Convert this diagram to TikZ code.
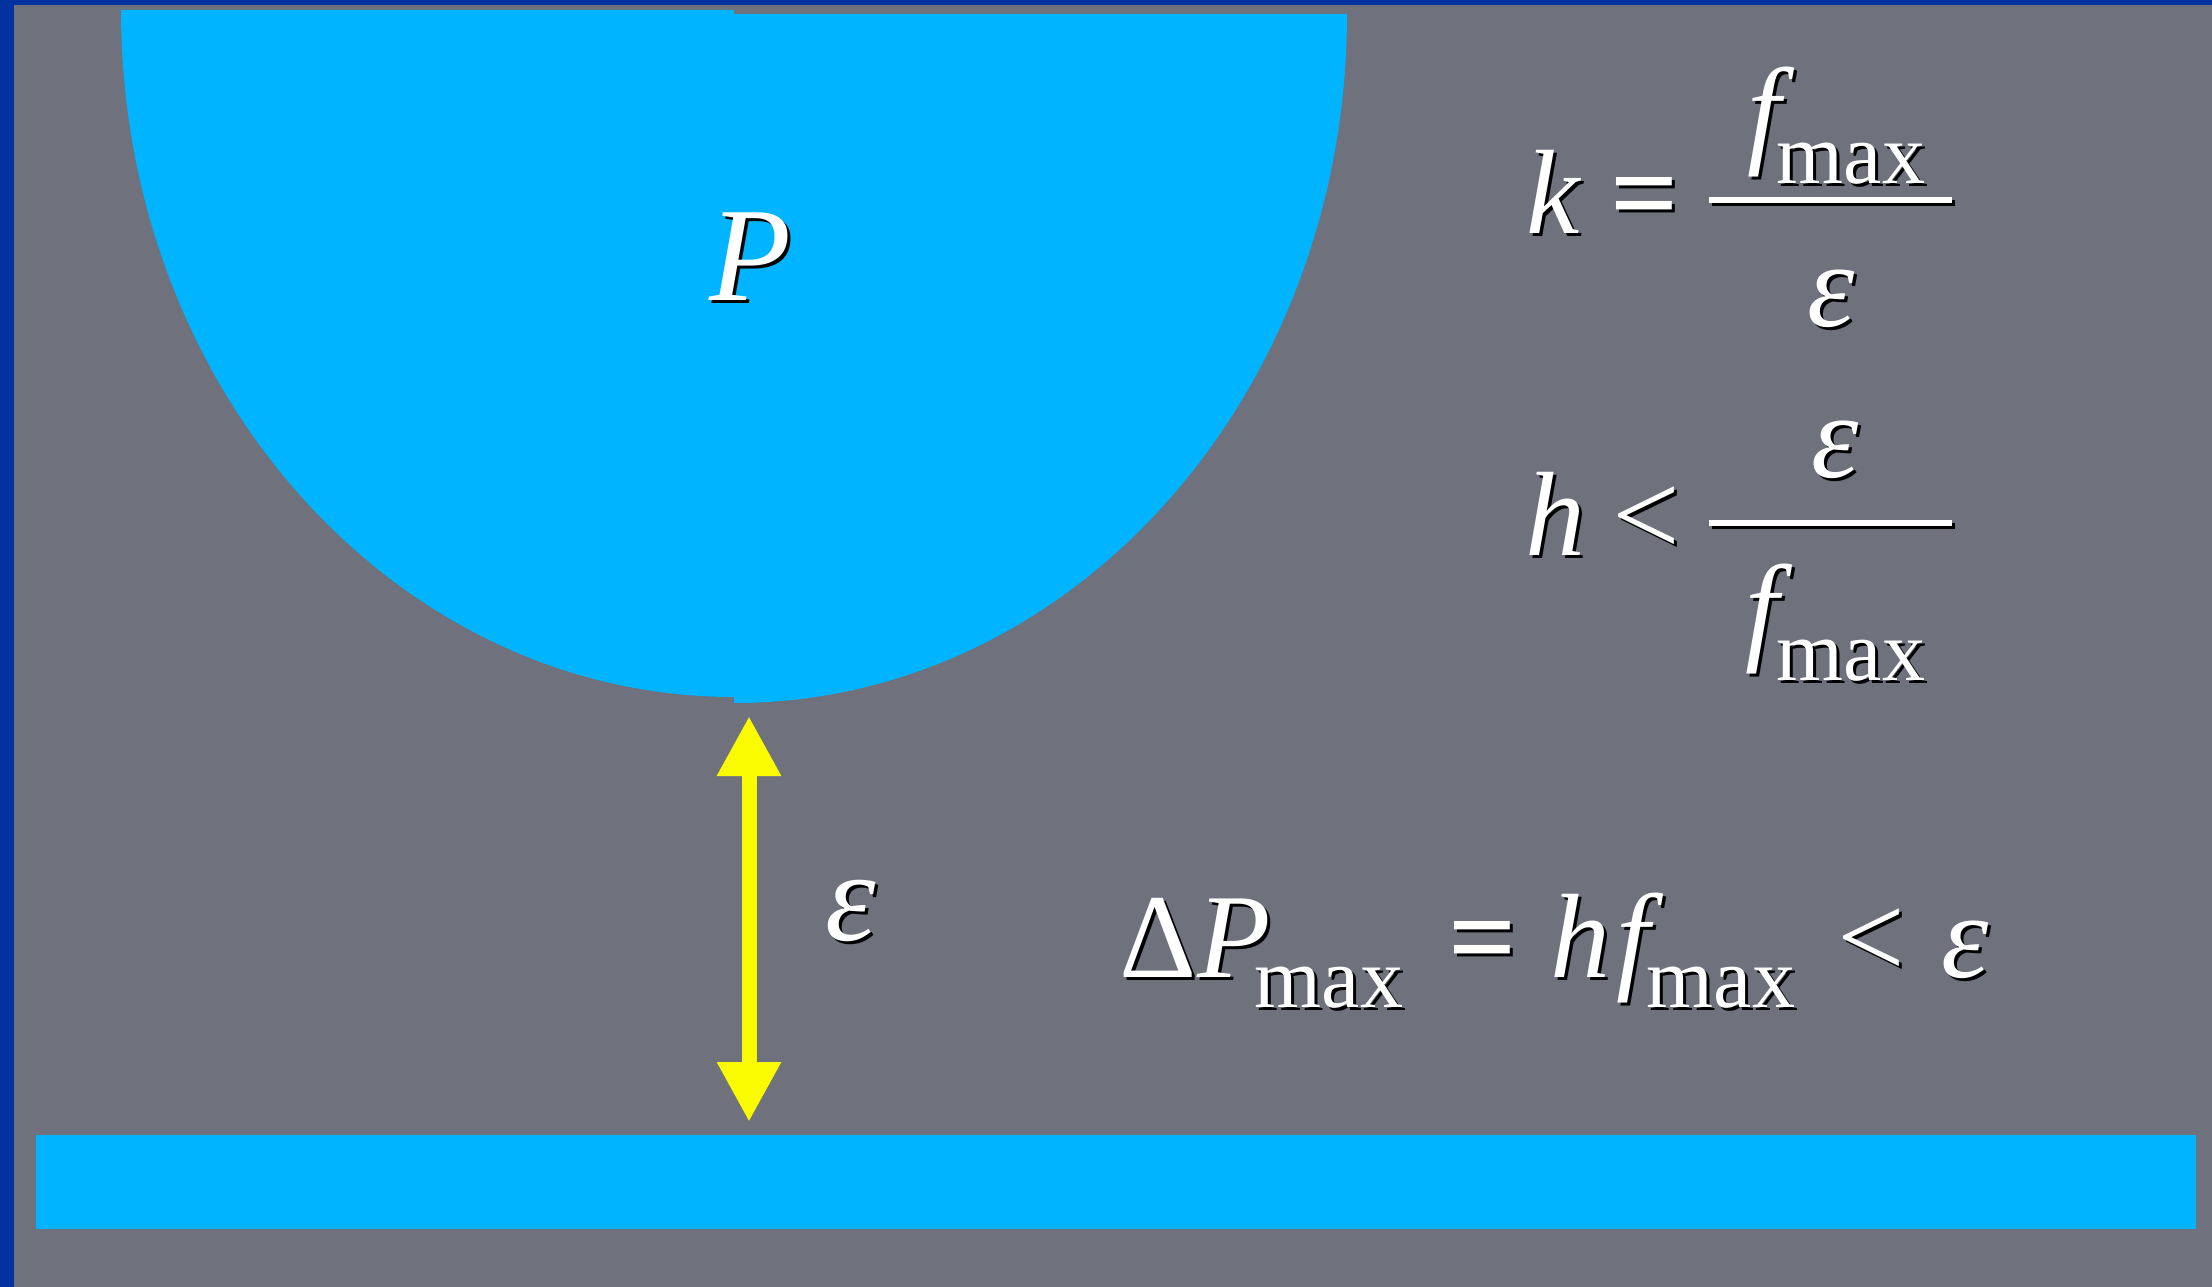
\documentclass[tikz,border=0pt]{standalone}
\usepackage{fontspec}
\setmainfont{Liberation Serif}
\usetikzlibrary{arrows.meta}
\definecolor{bg}{HTML}{6F717C}
\definecolor{frame}{HTML}{0033A0}
\definecolor{sky}{HTML}{00B4FF}
\definecolor{yel}{HTML}{FAFA00}
\newcommand\shd[1]{\makebox[0pt][l]{\hspace{3pt}\raisebox{-3pt}{\color{black}#1}}#1}
\begin{document}
\begin{tikzpicture}[x=1pt,y=-1pt,
  mi/.style={inner sep=0pt,text=white,anchor=base,font=\fontsize{120}{130}\selectfont\itshape},
  mr/.style={inner sep=0pt,text=white,anchor=base,font=\fontsize{120}{130}\selectfont},
  mb/.style={inner sep=0pt,text=white,anchor=base,font=\fontsize{120}{130}\selectfont\bfseries},
  ms/.style={inner sep=0pt,text=white,anchor=base,font=\fontsize{86}{90}\selectfont},
  big/.style={inner sep=0pt,text=white,anchor=base,font=\fontsize{134}{140}\selectfont\itshape},
  fracbar/.style={line width=6pt,white},
  barshadow/.style={line width=6pt,black}
]
\fill[bg] (0,0) rectangle (2212,1287);
\useasboundingbox (0,0) rectangle (2212,1287);
\fill[frame] (0,0) rectangle (14,1287);
\fill[frame] (0,0) rectangle (2212,5);
% half ellipse (two quarters)
\fill[sky] (121,10) arc[start angle=180,end angle=270,x radius=613pt,y radius=687pt] -- (734,10) -- cycle;
\fill[sky] (734,14) -- (1347,14) arc[start angle=0,end angle=-90,x radius=613pt,y radius=689pt] -- cycle;
% bottom slab
\fill[sky] (36,1135) rectangle (2196,1229);
% arrow
\coordinate (atop) at (749,716);
\coordinate (abot) at (749,1122);
\draw[yel,line width=15pt,{Triangle[width=60pt,length=60pt]}-{Triangle[width=60pt,length=60pt]}] (atop) -- (abot);
% labels
\node[big] (P) at (750,300) {\shd{P}};
\node[inner sep=0pt,text=white,anchor=base,font=\fontsize{128}{130}\selectfont\itshape] (eps) at (851,940) {\shd{ε}};
% formula 1
\node[mi] (k) at (1553,233) {\shd{k}};
\node[mb] (eq1) at (1645,233) {\shd{=}};
\coordinate (b1l) at (1709,200);
\coordinate (b1r) at (1952,200);
\draw[barshadow] ([shift={(3,3)}]b1l) -- ([shift={(3,3)}]b1r);
\draw[fracbar] (b1l) -- (b1r);
\node[mi] (f1) at (1764,152) {\shd{f}};
\node[ms] (m1) at (1851,183) {\shd{max}};
\node[mi] (e1) at (1831,326) {\shd{ε}};
% formula 2
\node[mi] (h2) at (1555,555) {\shd{h}};
\node[mr] (lt2) at (1646,555) {\shd{<}};
\coordinate (b2l) at (1709,523);
\coordinate (b2r) at (1952,523);
\draw[barshadow] ([shift={(3,3)}]b2l) -- ([shift={(3,3)}]b2r);
\draw[fracbar] (b2l) -- (b2r);
\node[mi] (e2) at (1835,477) {\shd{ε}};
\node[mi] (f2) at (1762,648) {\shd{f}};
\node[ms] (m2) at (1851,680) {\shd{max}};
% formula 3
\node[mr] (D3) at (1158,977) {\shd{Δ}};
\node[mi] (P3) at (1234,977) {\shd{P}};
\node[ms] (m3) at (1329,1007) {\shd{max}};
\node[mb] (eq3) at (1483,977) {\shd{=}};
\node[mi] (h3) at (1580,977) {\shd{h}};
\node[mi] (f3) at (1633,977) {\shd{f}};
\node[ms] (m4) at (1721,1007) {\shd{max}};
\node[mr] (lt3) at (1871,977) {\shd{<}};
\node[mi] (e3) at (1965,977) {\shd{ε}};
\end{tikzpicture}
\end{document}
